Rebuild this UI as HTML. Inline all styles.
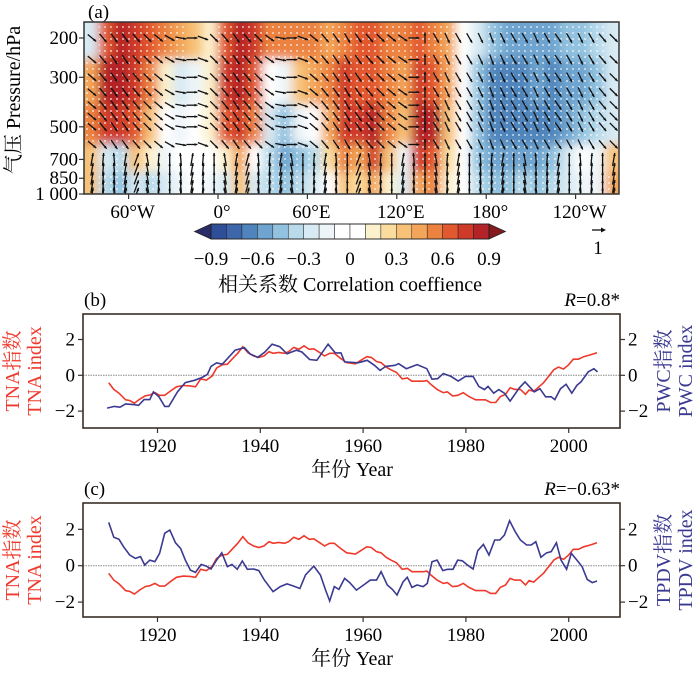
<!DOCTYPE html>
<html><head><meta charset="utf-8">
<style>
html,body{margin:0;padding:0;background:#fff;}
svg{display:block;font-family:"Liberation Serif","Noto Serif CJK SC",serif;}
</style></head>
<body>
<svg id="fig" width="700" height="677" viewBox="0 0 700 677" xmlns="http://www.w3.org/2000/svg">
<defs>
<clipPath id="clipA"><rect x="84" y="22" width="535" height="172"/></clipPath>
<filter id="blurA" x="-5%" y="-5%" width="110%" height="110%"><feGaussianBlur stdDeviation="5"/></filter>
<pattern id="dots" width="6" height="6" patternUnits="userSpaceOnUse"><circle cx="3" cy="3" r="0.9" fill="#fff"/></pattern>
<clipPath id="clipB"><rect x="83" y="314" width="537" height="114"/></clipPath>
<clipPath id="clipC"><rect x="83" y="503" width="537" height="114"/></clipPath>
</defs>
<g id="panelA"></g>
<g id="panelB"></g>
<g id="panelC"></g>
</svg>
<script>
// ---------- Panel (a) data ----------
const lonEdges = [-90,-80,-70,-60,-50,-40,-30,-20,-10,0,10,20,30,40,50,60,70,80,90,100,110,120,130,140,150,160,170,180,190,200,210,220,230,240,250,260,270];
const levelEdges = [170,250,400,600,800,1000];
const corrL0 = [-0.3,0.6,0.8,0.7,0.6,0.5,0.4,0.3,0.1,0.6,0.8,0.7,0.5,0.5,0.5,0.5,0.4,0.5,0.6,0.6,0.5,0.5,0.6,0.5,0.4,0,-0.3,-0.5,-0.6,-0.6,-0.6,-0.6,-0.5,-0.5,-0.4,-0.3];
const corrL1 = [0.4,0.8,0.8,0.7,0.5,0.1,-0.3,-0.2,0.1,0.7,0.8,0.6,0,-0.2,0.3,0.4,0.5,0.7,0.6,0.6,0.5,0.4,0.7,0.6,0.4,0,-0.5,-0.7,-0.7,-0.7,-0.6,-0.7,-0.6,-0.6,-0.5,-0.3];
const corrL2 = [0.5,0.7,0.7,0.6,0.3,0,-0.2,0,0.1,0.6,0.7,0.5,-0.3,-0.5,-0.2,0,0.4,0.7,0.7,0.8,0.5,0.3,0.8,0.8,0.3,0,-0.5,-0.7,-0.7,-0.7,-0.7,-0.7,-0.6,-0.5,-0.4,-0.3];
const corrL3 = [0.3,-0.3,-0.4,0.3,0.1,-0.2,-0.1,0,-0.1,0.1,0.4,0,-0.4,-0.6,-0.5,-0.4,0.2,0.5,0.4,0.7,0.3,-0.2,0.7,0.6,0.2,0,-0.5,-0.6,-0.6,-0.6,-0.6,-0.5,-0.3,-0.1,-0.2,0.3];
const corrL4 = [0.3,-0.4,-0.5,-0.3,-0.4,-0.3,-0.2,-0.1,-0.2,-0.3,0.3,-0.3,-0.4,-0.5,-0.4,-0.3,0,0.3,0.2,0.4,0.1,-0.3,0.4,0.5,0.1,-0.1,-0.4,-0.5,-0.5,-0.4,-0.5,-0.4,-0.3,-0.2,-0.2,0.4];
const pressureTicks = [200,300,500,700,850,1000];
const pressureLabels = ["200","300","500","700","850","1 000"];
const lonTicks = [-60,0,60,120,180,240];
const lonLabels = ["60°W","0°","60°E","120°E","180°","120°W"];
const cbarColors = ["#2b2d6b","#2f4e98","#3d67aa","#4f85bc","#6ea4cf","#92c2df","#b8daeb","#d8eaf3","#eef5f9","#ffffff","#ffffff","#fcf1cd","#fadd9e","#f7c278","#f3a559","#ec823f","#e2592f","#cf3a29","#b42328","#861b1f"];
const cbarTicks = [-0.9,-0.6,-0.3,0,0.3,0.6,0.9];
const cbarLabels = ["−0.9","−0.6","−0.3","0","0.3","0.6","0.9"];
const arrowLevels = [200,250,300,350,400,450,500,600,700,775,850,925,1000];
const arrowAngleUpper = [40,50,55,55,50,45,40,30,10,0,20,45,50,55,50,45,35,10,0,20,40,50,55,60,55,50,45,40,35,0,-90,60,65,60,60,65,70,65,60,60,65,60,55,60,65,60,50,45];
const arrowAngleLower = [-80,-85,-95,-80,-70,-100,-85,-90,-95,-80,-85,-90,-100,-80,-75,-95,-85,-80,-100,-90,-85,-80,-95,-90,-70,-100,-85,-90,-80,-95,-90,-100,-85,-80,-90,-95,-85,-80,-90,-100,-95,-85,-80,-90,-95,-85,-90,-80];

// ---------- Panels (b),(c) data ----------
const tnaYears = [1910.5,1911.5,1912.5,1913.8,1914.6,1915.5,1916.5,1917.6,1918.5,1919.5,1920.4,1921.4,1922.5,1923.7,1925,1926.3,1927.4,1928.4,1929.5,1930.6,1931.5,1932.6,1933.6,1934.5,1935.6,1936.6,1937.6,1938.7,1939.7,1940.7,1941.7,1942.5,1943.6,1944.7,1945.5,1946.5,1947.5,1948.5,1949.5,1950.4,1951.6,1952.5,1953.5,1954.4,1955.6,1956.8,1958.5,1959.5,1960.7,1961.6,1962.6,1963.5,1964.5,1965.4,1966.5,1967.6,1968.6,1969.5,1970.6,1971.8,1972.4,1973.2,1974.4,1975.6,1976.4,1977.4,1978.4,1979.5,1980.6,1981.9,1982.8,1983.8,1984.8,1985.8,1986.7,1987.7,1988.6,1989.5,1990.6,1991.6,1992.3,1993.2,1994.2,1995.1,1996.1,1997.1,1998,1999,2000,2000.9,2001.9,2002.9,2004.2,2005.5];
const tnaValues = [-0.42,-0.79,-1.0,-1.37,-1.41,-1.56,-1.34,-1.15,-1.1,-0.97,-1.12,-1.12,-0.88,-0.64,-0.57,-0.59,-0.64,-0.2,-0.27,-0.05,0.4,0.59,0.62,0.9,1.23,1.6,1.26,1.08,1.0,1.08,1.32,1.23,1.28,1.23,1.32,1.56,1.45,1.65,1.45,1.48,1.26,1.08,1.23,1.23,0.95,0.71,0.64,0.82,1.04,1.0,0.77,0.71,0.46,0.31,0.16,-0.2,-0.15,-0.33,-0.33,-0.33,-0.29,-0.51,-0.79,-0.97,-0.93,-1.15,-1.12,-0.97,-1.19,-1.37,-1.37,-1.37,-1.52,-1.52,-1.19,-1.06,-0.7,-0.79,-0.79,-1.06,-0.82,-0.9,-0.64,-0.42,-0.05,0.31,0.46,0.35,0.59,0.9,0.9,1.04,1.14,1.26];
const pwcYears = [1910.2,1911.6,1912.7,1913.8,1915.6,1916.3,1917.4,1918.5,1919.2,1920.3,1921.4,1922.2,1923.9,1925.4,1927.2,1928.6,1929.7,1930.4,1931.5,1932.6,1933.3,1935.1,1936.9,1938,1939.5,1940.9,1942.3,1943.8,1945.2,1947,1948.1,1949.6,1951,1953.2,1954.6,1955.7,1956.4,1959,1960.8,1962.2,1963.3,1964.4,1966.2,1966.9,1968.4,1970.5,1972.4,1973.4,1974.5,1975.6,1977.1,1978.5,1979.9,1981.4,1982.5,1983.6,1984.3,1985.4,1986.4,1987.5,1988.6,1990.4,1991.5,1993.3,1994.4,1995.5,1996.6,1997.3,1998.4,1999.5,2000.6,2001.6,2002.4,2003.8,2004.9,2005.6];
const pwcValues = [-1.83,-1.74,-1.78,-1.6,-1.64,-1.68,-1.36,-1.36,-0.93,-1.2,-1.74,-1.74,-0.93,-0.41,-0.28,-0.13,0.05,0.5,0.7,0.62,0.84,1.4,1.55,1.2,1.0,1.3,1.74,1.6,1.2,1.4,1.3,0.88,0.84,1.74,1.25,1.25,0.75,0.7,0.84,0.56,0.28,0.5,0.56,0.65,0.37,0.6,0.37,-0.22,-0.19,0.1,-0.06,-0.32,-0.06,-0.06,-0.62,-0.8,-0.62,-1.0,-0.8,-1.0,-1.44,-0.7,-0.37,-0.93,-0.75,-1.2,-1.2,-1.36,-0.75,-0.5,-1.0,-0.56,-0.37,0.19,0.37,0.19];
const tpdvYears = [1910.5,1911.5,1912.5,1913.4,1914.6,1915.7,1916.7,1917.5,1918.5,1919.5,1920.4,1921.4,1922.4,1923.5,1924.5,1925.4,1926.4,1927.4,1928.5,1929.5,1930.4,1931.5,1932.5,1933.6,1934.5,1935.5,1936.5,1937.5,1938.7,1939.7,1940.8,1942.5,1943.9,1945.2,1946.5,1947.7,1948.8,1950.4,1951.7,1952.7,1953.5,1954.4,1955.3,1956.4,1957.4,1958.7,1960.1,1961.4,1962.6,1963.5,1964.7,1965.7,1966.6,1967.8,1968.6,1969.5,1970.5,1971.7,1972.5,1973.4,1974.4,1975.5,1976.4,1977.5,1978.4,1979.3,1980.3,1981.4,1982.3,1983.4,1984.5,1985.6,1986.6,1987.5,1988.5,1989.6,1990.6,1991.8,1992.7,1993.6,1994.6,1995.7,1996.6,1997.6,1998.5,1999.6,2000.5,2001.7,2002.6,2003.6,2004.6,2005.5];
const tpdvValues = [2.38,1.56,1.45,1.04,0.59,0.4,0.5,0.04,0.31,0.22,0.68,1.78,1.96,1.26,0.95,0.31,-0.24,-0.37,0.07,-0.02,-0.18,0.31,0.71,-0.05,0.07,-0.2,0.26,-0.2,-0.18,-0.27,-0.79,-1.43,-1.15,-1.0,-1.12,-1.25,-0.51,-0.02,-0.51,-1.34,-1.94,-1.15,-1.3,-0.7,-0.93,-1.34,-1.06,-0.79,-0.79,-0.33,-1.06,-1.3,-1.61,-0.88,-0.64,-1.19,-1.06,-1.15,-0.97,0.22,0.31,-0.27,-0.2,-0.2,0.31,0.27,0.04,-0.18,0.82,1.17,0.59,1.41,1.41,1.68,2.47,1.87,1.41,1.14,1.14,1.32,0.46,0.71,0.77,1.26,0.31,-0.2,0.68,0.27,-0.05,-0.75,-0.93,-0.84];
const yearTicks = [1920,1940,1960,1980,2000];
const valueTicks = [-2,0,2];
const valueLabels = ["−2","0","2"];

// ---------- helpers ----------
const NS = "http://www.w3.org/2000/svg";
function mk(tag, attrs, parent, text){
  const e = document.createElementNS(NS, tag);
  for (const k in attrs) e.setAttribute(k, attrs[k]);
  if (text !== undefined) e.textContent = text;
  parent.appendChild(e);
  return e;
}
const lonX = lon => 218 + lon * 1.49;
const pY = p => 38 + Math.log(p / 200) / Math.log(5) * 156;
function colorFor(v){
  let i = Math.floor((v + 0.9) / 0.1 + 1e-9) + 1;
  if (i < 0) i = 0; if (i > 19) i = 19;
  return cbarColors[i];
}

// ---------- Panel (a) ----------
const A = document.getElementById("panelA");
mk("text",{x:88,y:18,"font-size":19},A,"(a)");
const heat = mk("g",{"clip-path":"url(#clipA)"},A);


mk("rect",{x:84,y:22,width:535,height:172,fill:"#fff"},heat);
const blurG = mk("g",{filter:"url(#blurA)"},heat);
const rows = [corrL0,corrL1,corrL2,corrL3,corrL4];
const dotsG = mk("g",{},heat);
rows.forEach((row,r)=>{
  row.forEach((v,c)=>{
    const x0 = lonX(lonEdges[c]), x1 = lonX(lonEdges[c+1]);
    let y0 = pY(levelEdges[r]), y1 = pY(levelEdges[r+1]);
    if (r === 0) y0 -= 10;
    if (r === rows.length-1) y1 += 10;
    let xa = x0, xb = x1;
    if (c === 0) xa -= 10;
    if (c === row.length-1) xb += 10;
    const cell = mk("rect",{x:xa-0.5,y:y0-0.5,width:xb-xa+1,height:y1-y0+1,fill:colorFor(v)},blurG);
    
    
    if (Math.abs(v) >= 0.4){
      const d = mk("rect",{x:x0,y:y0,width:x1-x0,height:y1-y0,fill:"url(#dots)",opacity:0.9},dotsG);
      
      
    }
  });
});
// arrows
const arrG = mk("g",{stroke:"#111","stroke-width":1.3,fill:"#111"},heat);


arrowAngleUpper.forEach((ang,c)=>{
  const cx = 92 + c * 11.1;
  arrowLevels.forEach(p=>{
    const lower = p >= 700;
    const a = (lower ? arrowAngleLower[c] : ang) * Math.PI/180;
    const len = lower ? 13 : 11;
    const cy = pY(p);
    const dx = Math.cos(a)*len/2, dy = Math.sin(a)*len/2;
    const x1 = cx-dx, y1 = cy-dy, x2 = cx+dx, y2 = cy+dy;
    const ln = mk("line",{x1:x1,y1:y1,x2:x2,y2:y2},arrG);
    
    
    const h = 3.2, hw = 0.45;
    const px1 = x2 - h*Math.cos(a-hw), py1 = y2 - h*Math.sin(a-hw);
    const px2 = x2 - h*Math.cos(a+hw), py2 = y2 - h*Math.sin(a+hw);
    mk("polygon",{points:`${x2},${y2} ${px1},${py1} ${px2},${py2}`,stroke:"none"},arrG);
  });
});
mk("rect",{x:84,y:22,width:535,height:172,fill:"none",stroke:"#333","stroke-width":1.5},A);
pressureTicks.forEach((p,i)=>{
  const y = pY(p);
  mk("line",{x1:79,y1:y,x2:84,y2:y,stroke:"#333","stroke-width":1.2},A);
  const t = mk("text",{x:78,y:y+6,"font-size":19,"text-anchor":"end"},A,pressureLabels[i]);
  
  
});
lonTicks.forEach((l,i)=>{
  const x = lonX(l);
  mk("line",{x1:x,y1:194,x2:x,y2:199,stroke:"#333","stroke-width":1.2},A);
  const t = mk("text",{x:x+4,y:218,"font-size":19,"text-anchor":"middle"},A,lonLabels[i]);
  
  
});
const yl = mk("text",{x:0,y:0,"font-size":20,"text-anchor":"middle",transform:"translate(20,100) rotate(-90)"},A,"气压 Pressure/hPa");


// colorbar
const cb = mk("g",{},A);


const cbX = v => 350 + v * 154.4;
const cbY0 = 224, cbY1 = 239;
mk("polygon",{points:`${cbX(-0.9)},${cbY0} ${cbX(-0.9)},${cbY1} ${cbX(-1)-1},${(cbY0+cbY1)/2}`,fill:cbarColors[0],stroke:"#222","stroke-width":0.8},cb);
mk("polygon",{points:`${cbX(0.9)},${cbY0} ${cbX(0.9)},${cbY1} ${cbX(1)+1},${(cbY0+cbY1)/2}`,fill:cbarColors[19],stroke:"#222","stroke-width":0.8},cb);
for (let i=1;i<19;i++){
  const v0 = -0.9 + (i-1)*0.1;
  mk("rect",{x:cbX(v0),y:cbY0,width:15.44,height:cbY1-cbY0,fill:cbarColors[i],stroke:"#222","stroke-width":0.5},cb);
}
mk("rect",{x:cbX(-0.9),y:cbY0,width:cbX(0.9)-cbX(-0.9),height:cbY1-cbY0,fill:"none",stroke:"#222","stroke-width":0.9},cb);
cbarTicks.forEach((v,i)=>{
  const t = mk("text",{x:cbX(v),y:265,"font-size":19,"text-anchor":"middle"},cb,cbarLabels[i]);
  
  
});
const cbt = mk("text",{x:350,y:291,"font-size":20,"text-anchor":"middle"},A,"相关系数 Correlation coeffience");


const refA = mk("g",{},A);


mk("line",{x1:592,y1:230,x2:604,y2:230,stroke:"#111","stroke-width":1.3},refA);
mk("polygon",{points:"606,230 601,227.5 601,232.5",fill:"#111"},refA);
mk("text",{x:598,y:254,"font-size":19,"text-anchor":"middle"},refA,"1");

// ---------- Panels (b),(c) ----------
function linePanel(G, top, zeroY, unit, letter, R, rightTop, rightBot, yearsB, valsB, labelLetter){
  const X0 = 83, X1 = 620, H = 114;
  const xS = yr => 157.5 + (yr - 1920) * 5.14;
  const yS = v => zeroY - v * unit;
  const pl = mk("text",{x:84,y:top-8,"font-size":19},G,labelLetter);
  
  
  const rt = mk("text",{x:620,y:top-8,"font-size":19,"text-anchor":"end"},G,"");
  
  
  mk("tspan",{"font-style":"italic"},rt,"R");
  mk("tspan",{},rt,R);
  mk("line",{x1:X0,y1:zeroY,x2:X1,y2:zeroY,stroke:"#888","stroke-width":1,"stroke-dasharray":"1.5,1"},G);
  const clip = letter === "b" ? "url(#clipB)" : "url(#clipC)";
  const pts1 = tnaYears.map((y,i)=>xS(y).toFixed(1)+","+yS(tnaValues[i]).toFixed(1)).join(" ");
  const r1 = mk("polyline",{points:pts1,fill:"none",stroke:"#ee3a2c","stroke-width":1.6,"clip-path":clip},G);
  
  
  const pts2 = yearsB.map((y,i)=>xS(y).toFixed(1)+","+yS(valsB[i]).toFixed(1)).join(" ");
  const b1 = mk("polyline",{points:pts2,fill:"none",stroke:"#3b3a91","stroke-width":1.6,"clip-path":clip},G);
  
  
  mk("rect",{x:X0,y:top,width:X1-X0,height:H,fill:"none",stroke:"#3a2e26","stroke-width":1.6},G);
  valueTicks.forEach((v,i)=>{
    const y = yS(v);
    mk("line",{x1:X0-5,y1:y,x2:X0,y2:y,stroke:"#333","stroke-width":1.2},G);
    mk("line",{x1:X1,y1:y,x2:X1+5,y2:y,stroke:"#333","stroke-width":1.2},G);
    const tl = mk("text",{x:X0-8,y:y+6,"font-size":19,"text-anchor":"end"},G,valueLabels[i]);
    
    
    const tr = mk("text",{x:X1+8,y:y+6,"font-size":19},G,valueLabels[i]);
    
    
  });
  yearTicks.forEach(yr=>{
    const x = xS(yr);
    mk("line",{x1:x,y1:top+H,x2:x,y2:top+H+5,stroke:"#333","stroke-width":1.2},G);
    const t = mk("text",{x:x,y:top+H+24,"font-size":19,"text-anchor":"middle"},G,String(yr));
    
    
  });
  const xt = mk("text",{x:352,y:top+H+48,"font-size":20,"text-anchor":"middle"},G,"年份 Year");
  
  
  const cy = top + H/2;
  const l1 = mk("text",{"font-size":20,fill:"#ee3a2c","text-anchor":"middle",transform:`translate(19,${cy}) rotate(-90)`},G,"TNA指数");
  
  
  const l2 = mk("text",{"font-size":20,fill:"#ee3a2c","text-anchor":"middle",transform:`translate(41,${cy}) rotate(-90)`},G,"TNA index");
  
  
  const r1t = mk("text",{"font-size":20,fill:"#3b3a91","text-anchor":"middle",transform:`translate(670,${cy}) rotate(-90)`},G,rightTop);
  
  
  const r2t = mk("text",{"font-size":20,fill:"#3b3a91","text-anchor":"middle",transform:`translate(692,${cy}) rotate(-90)`},G,rightBot);
  
  
}
linePanel(document.getElementById("panelB"),314,375.3,17.9,"b","=0.8*","PWC指数","PWC index",pwcYears,pwcValues,"(b)");
linePanel(document.getElementById("panelC"),503,565.7,18.2,"c","=−0.63*","TPDV指数","TPDV index",tpdvYears,tpdvValues,"(c)");
</script>
</body></html>
